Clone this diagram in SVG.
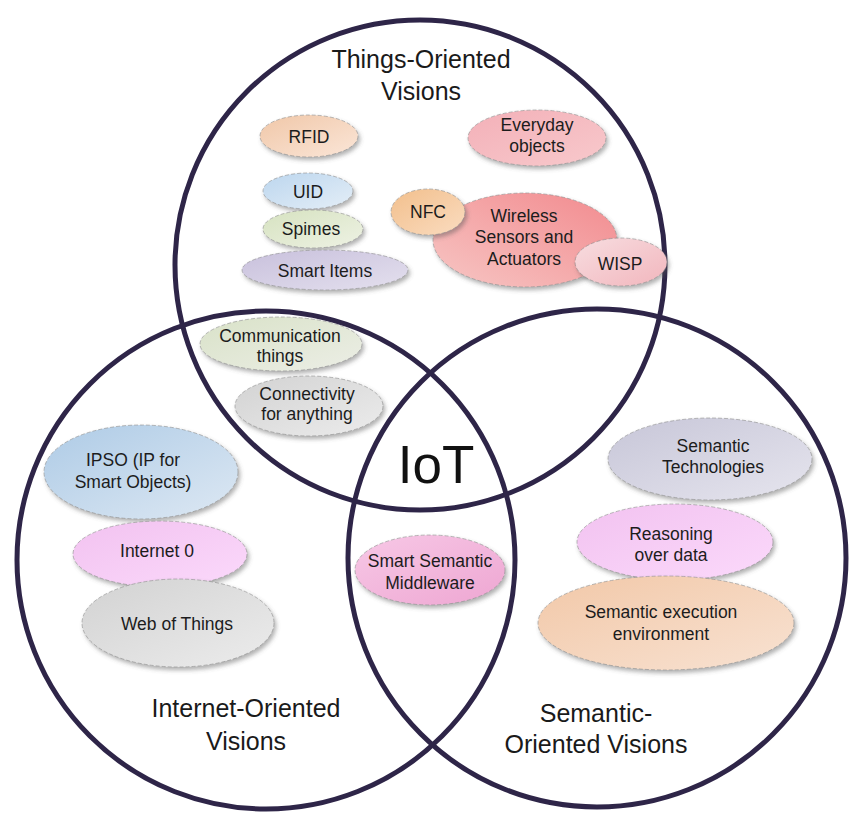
<svg xmlns="http://www.w3.org/2000/svg" width="849" height="814" viewBox="0 0 849 814">
<style>
.ring{fill:none;stroke:#2e2548;stroke-width:5}
.title{font-family:"Liberation Sans",Arial,sans-serif;font-size:25px;fill:#1a1a1a;text-anchor:middle}
.lbl{font-family:"Liberation Sans",Arial,sans-serif;font-size:17.5px;fill:#1c1c1c;text-anchor:middle}
.el{stroke:#8d8d8d;stroke-width:1;stroke-dasharray:4 2;stroke-opacity:0.6;filter:url(#sh)}
.iot{font-family:"Liberation Sans",Arial,sans-serif;font-size:53px;fill:#111;text-anchor:middle}
</style>
<defs>
<filter id="sh" x="-20%" y="-20%" width="140%" height="150%">
<feDropShadow dx="2" dy="3" stdDeviation="2" flood-color="#555" flood-opacity="0.45"/>
</filter>
<linearGradient id="gPeach" x1="0" y1="0" x2="1" y2="1"><stop offset="0" stop-color="#f0c7a8"/><stop offset="1" stop-color="#fbe6d8"/></linearGradient>
<linearGradient id="gPink" x1="0" y1="0" x2="1" y2="1"><stop offset="0" stop-color="#f3b0b8"/><stop offset="1" stop-color="#f8c9cc"/></linearGradient>
<linearGradient id="gBlue" x1="0" y1="0" x2="1" y2="1"><stop offset="0" stop-color="#bcd6ee"/><stop offset="1" stop-color="#e4eef7"/></linearGradient>
<linearGradient id="gGreen" x1="0" y1="0" x2="1" y2="1"><stop offset="0" stop-color="#d6e2c0"/><stop offset="1" stop-color="#eef2e4"/></linearGradient>
<linearGradient id="gLav" x1="0" y1="0" x2="1" y2="1"><stop offset="0" stop-color="#c8c0dc"/><stop offset="1" stop-color="#e4e0ee"/></linearGradient>
<linearGradient id="gOrange" x1="0" y1="0" x2="1" y2="1"><stop offset="0" stop-color="#f2bf8c"/><stop offset="1" stop-color="#fadcc0"/></linearGradient>
<linearGradient id="gSalmon" x1="0" y1="1" x2="1" y2="0"><stop offset="0" stop-color="#f7c6c4"/><stop offset="1" stop-color="#f28a8e"/></linearGradient>
<linearGradient id="gWisp" x1="0" y1="0" x2="1" y2="1"><stop offset="0" stop-color="#f7dde0"/><stop offset="1" stop-color="#f2b6bd"/></linearGradient>
<linearGradient id="gGreenGray" x1="0" y1="0" x2="1" y2="1"><stop offset="0" stop-color="#d9e2c8"/><stop offset="1" stop-color="#eceee6"/></linearGradient>
<linearGradient id="gGray" x1="0" y1="0" x2="1" y2="1"><stop offset="0" stop-color="#d2d2d2"/><stop offset="1" stop-color="#ececec"/></linearGradient>
<linearGradient id="gIpso" x1="0" y1="0" x2="1" y2="1"><stop offset="0" stop-color="#aecbe6"/><stop offset="1" stop-color="#dde8f3"/></linearGradient>
<linearGradient id="gMag" x1="0" y1="0" x2="1" y2="1"><stop offset="0" stop-color="#f2c2f0"/><stop offset="1" stop-color="#fbd9fb"/></linearGradient>
<linearGradient id="gMid" x1="0" y1="0" x2="1" y2="1"><stop offset="0" stop-color="#f7c8e6"/><stop offset="1" stop-color="#eea6d2"/></linearGradient>
<linearGradient id="gSemT" x1="0" y1="0" x2="1" y2="1"><stop offset="0" stop-color="#c7c6d8"/><stop offset="1" stop-color="#e6e5ee"/></linearGradient>
<linearGradient id="gExec" x1="0" y1="0" x2="1" y2="1"><stop offset="0" stop-color="#f2c8a8"/><stop offset="1" stop-color="#f8e2d2"/></linearGradient>
</defs>
<rect width="849" height="814" fill="#fff"/>

<g id="circles">
<circle class="ring" cx="420" cy="265" r="245"/>
<circle class="ring" cx="266" cy="560" r="249"/>
<circle class="ring" cx="597" cy="558" r="249"/>
</g>

<g id="titles">
<text class="title" x="421" y="68">Things-Oriented</text>
<text class="title" x="421" y="100">Visions</text>
<text class="title" x="246" y="717">Internet-Oriented</text>
<text class="title" x="246" y="750">Visions</text>
<text class="title" x="596" y="722">Semantic-</text>
<text class="title" x="596" y="753">Oriented Visions</text>
<text class="iot" x="436" y="483">IoT</text>
</g>

<g id="rfid"><ellipse class="el" cx="309" cy="136" rx="49" ry="21" fill="url(#gPeach)"/><text class="lbl" x="309" y="143">RFID</text></g>
<g id="everyday"><ellipse class="el" cx="537" cy="138" rx="69" ry="28" fill="url(#gPink)"/><text class="lbl" x="537" y="131">Everyday</text><text class="lbl" x="537" y="152">objects</text></g>
<g id="uid"><ellipse class="el" cx="308" cy="191" rx="45" ry="18" fill="url(#gBlue)"/><text class="lbl" x="308" y="198">UID</text></g>
<g id="spimes"><ellipse class="el" cx="313" cy="229" rx="50" ry="19" fill="url(#gGreen)"/><text class="lbl" x="311" y="235">Spimes</text></g>
<g id="smart-items"><ellipse class="el" cx="325" cy="270" rx="83" ry="20" fill="url(#gLav)"/><text class="lbl" x="325" y="277">Smart Items</text></g>
<g id="wsa"><ellipse class="el" cx="525" cy="240" rx="92" ry="47" fill="url(#gSalmon)"/><text class="lbl" x="524" y="222">Wireless</text><text class="lbl" x="524" y="243">Sensors and</text><text class="lbl" x="524" y="265">Actuators</text></g>
<g id="nfc"><ellipse class="el" cx="428" cy="212" rx="37" ry="23" fill="url(#gOrange)"/><text class="lbl" x="428" y="218">NFC</text></g>
<g id="wisp"><ellipse class="el" cx="621" cy="262" rx="46" ry="24" fill="url(#gWisp)"/><text class="lbl" x="620" y="270">WISP</text></g>

<g id="communication-things"><ellipse class="el" cx="281" cy="344" rx="81" ry="27" fill="url(#gGreenGray)"/><text class="lbl" x="280" y="342">Communication</text><text class="lbl" x="280" y="362">things</text></g>
<g id="connectivity"><ellipse class="el" cx="309" cy="406" rx="74" ry="30" fill="url(#gGray)"/><text class="lbl" x="307" y="400">Connectivity</text><text class="lbl" x="307" y="420">for anything</text></g>

<g id="ipso"><ellipse class="el" cx="141" cy="472" rx="97" ry="47" fill="url(#gIpso)"/><text class="lbl" x="133" y="466">IPSO (IP for</text><text class="lbl" x="133" y="488">Smart Objects)</text></g>
<g id="internet0"><ellipse class="el" cx="160" cy="554" rx="87" ry="33" fill="url(#gMag)"/><text class="lbl" x="157" y="557">Internet 0</text></g>
<g id="web-of-things"><ellipse class="el" cx="178" cy="623" rx="96" ry="44" fill="url(#gGray)"/><text class="lbl" x="177" y="630">Web of Things</text></g>

<g id="ssm"><ellipse class="el" cx="430" cy="570" rx="75" ry="35" fill="url(#gMid)"/><text class="lbl" x="430" y="567">Smart Semantic</text><text class="lbl" x="430" y="589">Middleware</text></g>

<g id="semantic-tech"><ellipse class="el" cx="710" cy="459" rx="102" ry="41" fill="url(#gSemT)"/><text class="lbl" x="713" y="452">Semantic</text><text class="lbl" x="713" y="473">Technologies</text></g>
<g id="reasoning"><ellipse class="el" cx="675" cy="542" rx="98" ry="38" fill="url(#gMag)"/><text class="lbl" x="671" y="540">Reasoning</text><text class="lbl" x="671" y="561">over data</text></g>
<g id="semantic-exec"><ellipse class="el" cx="666" cy="623" rx="128" ry="47" fill="url(#gExec)"/><text class="lbl" x="661" y="618">Semantic execution</text><text class="lbl" x="661" y="640">environment</text></g>
</svg>
